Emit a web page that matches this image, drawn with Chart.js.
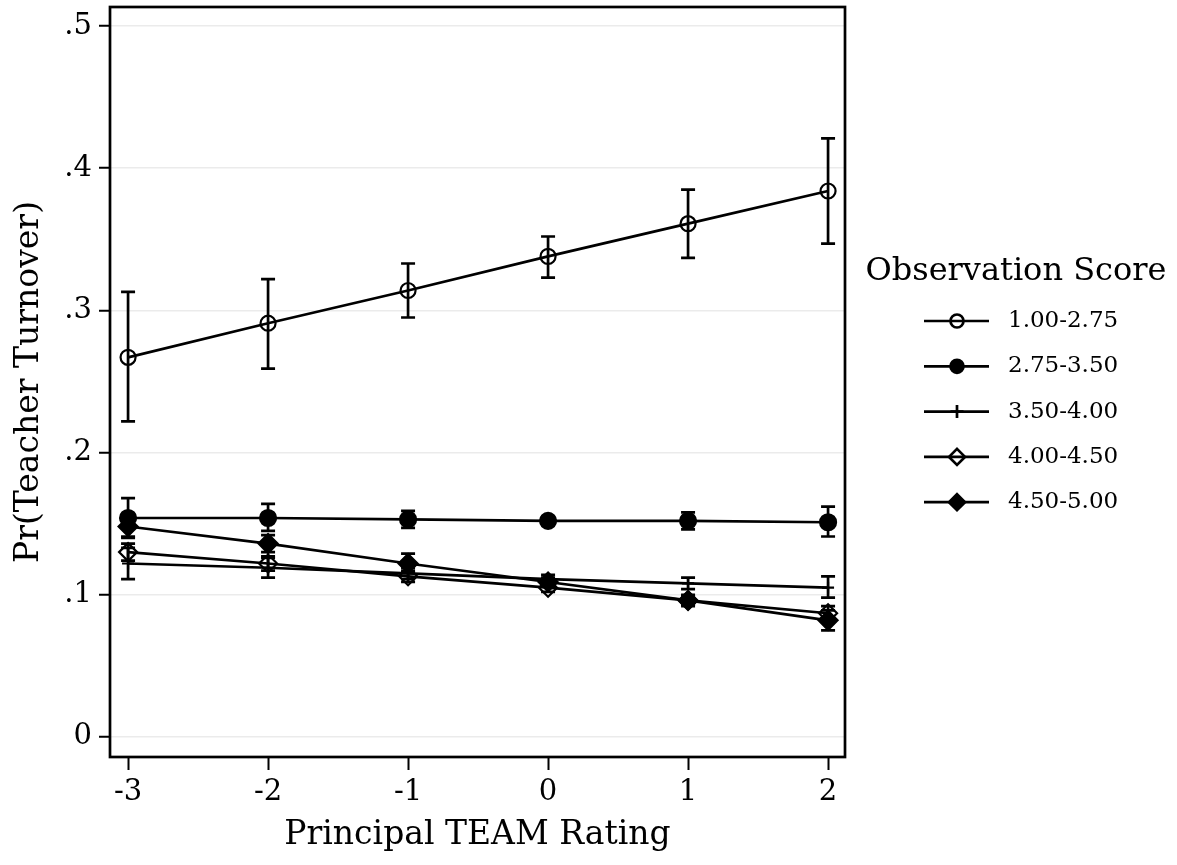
<!DOCTYPE html>
<html lang="en">
  <head>
    <meta charset="UTF-8" />
    <title>Pr(Teacher Turnover) by Principal TEAM Rating</title>
    <script src="https://cdn.jsdelivr.net/npm/chart.js"></script>
    <style>
      html, body { margin: 0; padding: 0; background: #fff; }
      #wrap { width: 1177px; height: 865px; }
    </style>
  </head>
  <body>
    <div id="wrap"><canvas id="chart"></canvas></div>
    <script>
      const ratings = [-3, -2, -1, 0, 1, 2];
      const xTickLabels = ["-3", "-2", "-1", "0", "1", "2"];
      const yTicks = [0, 0.1, 0.2, 0.3, 0.4, 0.5];
      const yTickLabels = ["0", ".1", ".2", ".3", ".4", ".5"];
      const groups = ["1.00-2.75", "2.75-3.50", "3.50-4.00", "4.00-4.50", "4.50-5.00"];

      // point estimates and 95% bounds
      const g1 = [0.267, 0.291, 0.314, 0.338, 0.361, 0.384];
      const g1Lo = [0.222, 0.259, 0.295, 0.323, 0.337, 0.347];
      const g1Hi = [0.313, 0.322, 0.333, 0.352, 0.385, 0.421];

      const g2 = [0.154, 0.154, 0.153, 0.152, 0.152, 0.151];
      const g2Lo = [0.141, 0.145, 0.147, 0.149, 0.146, 0.141];
      const g2Hi = [0.168, 0.164, 0.159, 0.155, 0.158, 0.162];

      const g3 = [0.122, 0.119, 0.115, 0.111, 0.108, 0.105];
      const g3Lo = [0.111, 0.112, 0.111, 0.108, 0.104, 0.098];
      const g3Hi = [0.133, 0.126, 0.119, 0.114, 0.112, 0.113];

      const g4 = [0.130, 0.122, 0.113, 0.105, 0.096, 0.087];
      const g4Lo = [0.124, 0.117, 0.109, 0.102, 0.093, 0.082];
      const g4Hi = [0.136, 0.127, 0.117, 0.108, 0.099, 0.092];

      const g5 = [0.148, 0.136, 0.122, 0.109, 0.096, 0.082];
      const g5Lo = [0.140, 0.130, 0.116, 0.106, 0.092, 0.075];
      const g5Hi = [0.156, 0.142, 0.129, 0.112, 0.100, 0.089];

      const serif = "'DejaVu Serif', serif";
      const lw = 2.7;

      function series(label, vals, lo, hi, style, radius, fill) {
        return {
          label: label,
          data: ratings.map((r, i) => ({ x: r, y: vals[i] })),
          lo: lo,
          hi: hi,
          borderColor: "#000",
          borderWidth: lw,
          tension: 0,
          fill: false,
          pointStyle: style,
          pointRadius: radius,
          pointBorderWidth: 2.2,
          pointBorderColor: "#000",
          pointBackgroundColor: fill ? "#000" : "rgba(0,0,0,0)",
          filled: fill,
        };
      }

      function drawMarker(ctx, style, x, y, r, fill) {
        ctx.beginPath();
        if (style === "circle") {
          ctx.arc(x, y, r, 0, Math.PI * 2);
        } else if (style === "rectRot") {
          ctx.moveTo(x, y - r);
          ctx.lineTo(x + r, y);
          ctx.lineTo(x, y + r);
          ctx.lineTo(x - r, y);
          ctx.closePath();
        } else if (style === "cross") {
          ctx.moveTo(x, y - r);
          ctx.lineTo(x, y + r);
          ctx.moveTo(x - r, y);
          ctx.lineTo(x + r, y);
        }
        if (fill && style !== "cross") {
          ctx.fillStyle = "#000";
          ctx.fill();
        }
        ctx.stroke();
      }

      const errorBars = {
        id: "errorBars",
        beforeDatasetsDraw(chart) {
          const { ctx } = chart;
          const yScale = chart.scales.y;
          ctx.save();
          ctx.strokeStyle = "#000";
          ctx.lineWidth = lw;
          chart.data.datasets.forEach((ds, i) => {
            chart.getDatasetMeta(i).data.forEach((pt, j) => {
              const top = yScale.getPixelForValue(ds.hi[j]);
              const bot = yScale.getPixelForValue(ds.lo[j]);
              ctx.beginPath();
              ctx.moveTo(pt.x, top);
              ctx.lineTo(pt.x, bot);
              ctx.moveTo(pt.x - 7, top);
              ctx.lineTo(pt.x + 7, top);
              ctx.moveTo(pt.x - 7, bot);
              ctx.lineTo(pt.x + 7, bot);
              ctx.stroke();
            });
          });
          ctx.restore();
        },
      };

      const frame = {
        id: "frame",
        afterDraw(chart) {
          const { ctx, chartArea: a } = chart;
          ctx.save();
          ctx.strokeStyle = "#000";
          ctx.lineWidth = lw;
          ctx.strokeRect(a.left, a.top, a.right - a.left, a.bottom - a.top);
          ctx.restore();
        },
      };

      const obsLegend = {
        id: "obsLegend",
        afterDraw(chart) {
          const { ctx, chartArea: a } = chart;
          ctx.save();
          ctx.fillStyle = "#000";
          ctx.textBaseline = "middle";
          ctx.font = "32px " + serif;
          ctx.textAlign = "center";
          ctx.fillText("Observation Score", a.right + 171, a.top + 265);

          ctx.font = "23px " + serif;
          ctx.textAlign = "left";
          ctx.strokeStyle = "#000";
          ctx.lineWidth = lw;
          chart.data.datasets.forEach((ds, i) => {
            const y = a.top + 314 + i * 45.3;
            const x0 = a.right + 79;
            ctx.beginPath();
            ctx.moveTo(x0, y);
            ctx.lineTo(x0 + 65, y);
            ctx.stroke();
            const r = ds.pointStyle === "rectRot" ? 8 : 6.5;
            drawMarker(ctx, ds.pointStyle, x0 + 33, y, r, ds.filled);
            ctx.fillStyle = "#000";
            ctx.fillText(ds.label, a.right + 163, y);
          });
          ctx.restore();
        },
      };

      new Chart(document.getElementById("chart"), {
        type: "line",
        data: {
          datasets: [
            series(groups[0], g1, g1Lo, g1Hi, "circle", 7.5, false),
            series(groups[1], g2, g2Lo, g2Hi, "circle", 8, true),
            series(groups[2], g3, g3Lo, g3Hi, "cross", 6, false),
            series(groups[3], g4, g4Lo, g4Hi, "rectRot", 9, false),
            series(groups[4], g5, g5Lo, g5Hi, "rectRot", 9.5, true),
          ],
        },
        options: {
          responsive: true,
          maintainAspectRatio: false,
          animation: false,
          layout: {
            autoPadding: false,
            padding: { top: 7, right: 332, left: 0, bottom: 0 },
          },
          plugins: {
            legend: { display: false },
            tooltip: { enabled: false },
          },
          scales: {
            x: {
              type: "linear",
              min: -3.129,
              max: 2.121,
              afterBuildTicks: (s) => {
                s.ticks = ratings.map((v) => ({ value: v }));
              },
              afterFit: (s) => {
                s.height = 108;
                s.paddingLeft = 0;
                s.paddingRight = 0;
              },
              ticks: {
                color: "#000",
                padding: 5,
                font: { family: serif, size: 29 },
                callback: (v) => xTickLabels[ratings.indexOf(v)],
              },
              grid: {
                drawOnChartArea: false,
                tickColor: "#000",
                tickWidth: 2,
                tickLength: 13,
              },
              border: { display: false },
              title: {
                display: true,
                text: "Principal TEAM Rating",
                color: "#000",
                font: { family: serif, size: 33 },
                padding: { top: 0, bottom: 10 },
              },
            },
            y: {
              min: -0.0141,
              max: 0.5134,
              afterBuildTicks: (s) => {
                s.ticks = yTicks.map((v) => ({ value: v }));
              },
              afterFit: (s) => {
                s.width = 110;
                s.paddingTop = 0;
                s.paddingBottom = 0;
              },
              ticks: {
                color: "#000",
                padding: 7,
                font: { family: serif, size: 29 },
                callback: (v) => yTickLabels[yTicks.indexOf(v)],
              },
              grid: {
                color: "#ebebeb",
                lineWidth: 1.5,
                tickColor: "#000",
                tickWidth: 2,
                tickLength: 11,
              },
              border: { display: false },
              title: {
                display: true,
                text: "Pr(Teacher Turnover)",
                color: "#000",
                font: { family: serif, size: 33 },
                padding: { top: 10, bottom: 0 },
              },
            },
          },
        },
        plugins: [errorBars, frame, obsLegend],
      });
    </script>
  </body>
</html>
